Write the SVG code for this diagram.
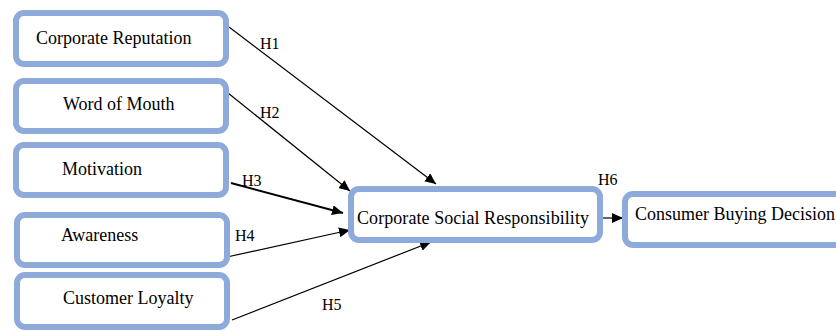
<svg xmlns="http://www.w3.org/2000/svg" width="836" height="331" viewBox="0 0 836 331">
<style>
.box{fill:#fff;stroke:#8eaadb;stroke-width:6}
.t{font-family:"Liberation Serif","Times New Roman",serif;font-size:18px;fill:#000}
.h{font-family:"Liberation Serif","Times New Roman",serif;font-size:16px;fill:#000}
.c{stroke:#000;stroke-width:1.2;fill:none;marker-end:url(#ah)}
</style>
<defs>
<marker id="ah" markerUnits="userSpaceOnUse" markerWidth="12" markerHeight="10" refX="11" refY="5" orient="auto">
<path d="M0,0 L11,5 L0,10 Z" fill="#000"/>
</marker>
</defs>
<rect width="836" height="331" fill="#fff"/>
<g id="connectors">
<line class="c" x1="229" y1="27" x2="436" y2="184"/>
<line class="c" x1="228" y1="93" x2="350" y2="191"/>
<line class="c" x1="231" y1="183" x2="343" y2="213" style="stroke-width:2"/>
<line class="c" x1="227" y1="257" x2="350" y2="230"/>
<line class="c" x1="232" y1="320" x2="431" y2="242"/>
<line class="c" x1="601" y1="218" x2="623" y2="218"/>
<text class="h" x="260" y="49">H1</text>
<text class="h" x="260" y="118">H2</text>
<text class="h" x="242" y="186">H3</text>
<text class="h" x="235" y="241">H4</text>
<text class="h" x="322" y="310">H5</text>
<text class="h" x="598" y="185">H6</text>
</g>
<g id="corporate-reputation">
<rect class="box" x="16" y="13" width="210" height="51" rx="8"/>
<text class="t" x="36" y="44">Corporate Reputation</text>
</g>
<g id="word-of-mouth">
<rect class="box" x="16" y="81" width="210" height="50" rx="8"/>
<text class="t" x="63" y="110">Word of Mouth</text>
</g>
<g id="motivation">
<rect class="box" x="16" y="145" width="210" height="50" rx="8"/>
<text class="t" x="62" y="175">Motivation</text>
</g>
<g id="awareness">
<rect class="box" x="17" y="215" width="210" height="50" rx="8"/>
<text class="t" x="61" y="241">Awareness</text>
</g>
<g id="customer-loyalty">
<rect class="box" x="17" y="275" width="210" height="52" rx="8"/>
<text class="t" x="63" y="304">Customer Loyalty</text>
</g>
<g id="csr">
<rect class="box" x="351" y="189" width="249" height="51" rx="8"/>
<text class="t" x="357" y="224" textLength="232">Corporate Social Responsibility</text>
</g>
<g id="consumer-buying-decision">
<rect class="box" x="625" y="194" width="230" height="51" rx="8"/>
<text class="t" x="635" y="220">Consumer Buying Decision</text>
</g>
</svg>
